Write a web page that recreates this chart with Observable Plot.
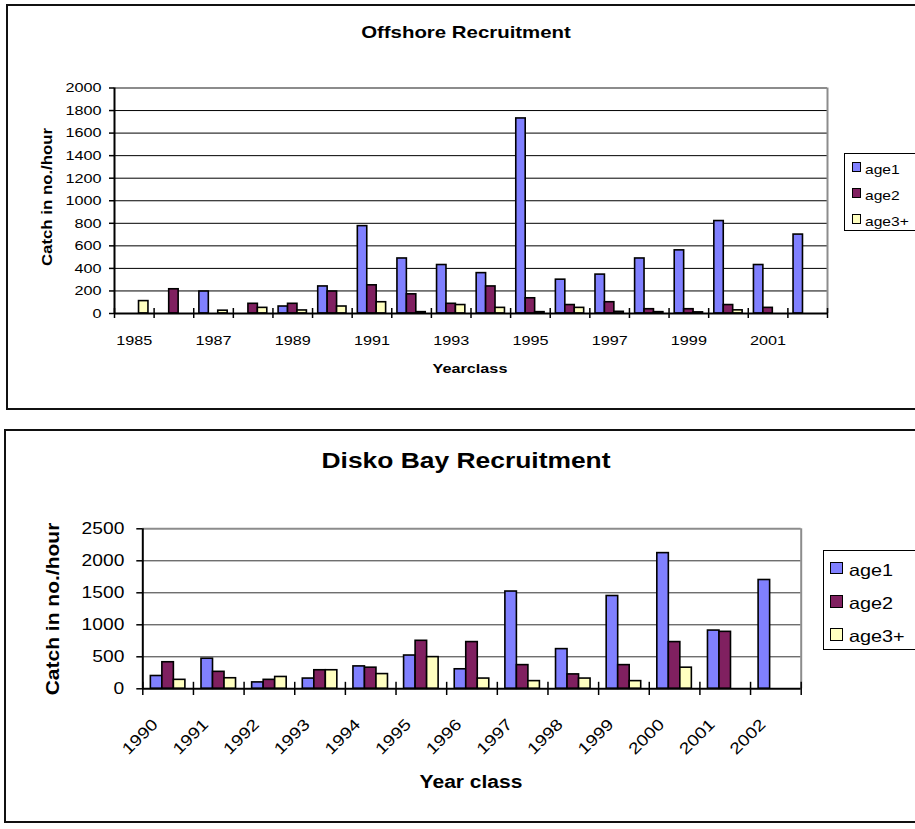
<!DOCTYPE html>
<html>
<head>
<meta charset="utf-8">
<script src="https://cdn.jsdelivr.net/npm/d3@7"></script>
<script src="https://cdn.jsdelivr.net/npm/@observablehq/plot@0.6"></script>
<style>
  body { margin: 0; background: #fff; }
  #page { position: relative; width: 915px; height: 829px; overflow: hidden; background: #fff;
          font-family: "Liberation Sans", Arial, sans-serif; color: #000; }
  .box { position: absolute; border: 2px solid #111; box-sizing: border-box; }
  .txt { position: absolute; white-space: nowrap; line-height: 1; }
  .chart { position: absolute; left: 0; }
  .legend { position: absolute; border: 1.5px solid #000; box-sizing: border-box; background: #fff; }
  .sw { position: absolute; border: 1.5px solid #000; box-sizing: border-box; }
</style>
</head>
<body>
<div id="page"></div>
<script>
// ---- Offshore survey: catch per hour by year class ----
const offshoreYears = [1985, 1986, 1987, 1988, 1989, 1990, 1991, 1992, 1993, 1994, 1995, 1996, 1997, 1998, 1999, 2000, 2001, 2002];
const offshoreAge1  = [null, null, 195, null, 62, 240, 775, 488, 430, 358, 1730, 300, 345, 488, 560, 820, 430, 700];
const offshoreAge2  = [null, 215, null, 86, 86, 195, 250, 170, 86, 240, 135, 75, 100, 38, 38, 75, 50, null];
const offshoreAge3  = [110, null, 25, 50, 27, 62, 100, 12, 75, 50, 12, 50, 15, 12, 10, 28, null, null];
const offshoreYTicks = [0, 200, 400, 600, 800, 1000, 1200, 1400, 1600, 1800, 2000];
const offshoreLabelYears = [1985, 1987, 1989, 1991, 1993, 1995, 1997, 1999, 2001];

// ---- Disko Bay survey ----
const diskoYears = [1990, 1991, 1992, 1993, 1994, 1995, 1996, 1997, 1998, 1999, 2000, 2001, 2002];
const diskoAge1  = [200, 470, 100, 160, 350, 520, 305, 1520, 620, 1450, 2120, 910, 1700];
const diskoAge2  = [415, 265, 140, 290, 330, 750, 730, 370, 225, 370, 730, 890, null];
const diskoAge3  = [140, 165, 185, 290, 230, 495, 160, 120, 160, 120, 330, null, null];
const diskoYTicks = [0, 500, 1000, 1500, 2000, 2500];

const seriesNames  = ["age1", "age2", "age3+"];
const seriesColors = ["#8080ff", "#802060", "#ffffc0"];

const WIDEN = 1.2;   // the lettering is drawn a little wider than plain Arial
const page = document.getElementById("page");

function rows(years, cols) {
  return years.flatMap((year, i) =>
    cols.map((col, j) => ({year, series: seriesNames[j], j, value: col[i]})))
    .filter(d => d.value != null);
}

function addText(str, o) {
  const el = document.createElement("div");
  el.className = "txt";
  el.textContent = str;
  el.style.fontSize = o.size + "px";
  if (o.bold) el.style.fontWeight = "bold";
  if (o.rotate) {
    el.style.left = o.x + "px";
    el.style.top = o.y + "px";
    el.style.transform = `translate(-50%,-50%) rotate(-90deg) scaleX(${WIDEN})`;
  } else if (o.anchor === "start") {
    el.style.left = o.x + "px";
    el.style.top = (o.baseline - 0.847 * o.size) + "px";
    el.style.transformOrigin = "0 50%";
    el.style.transform = `scaleX(${WIDEN})`;
  } else {
    el.style.left = o.x + "px";
    el.style.top = (o.baseline - 0.847 * o.size) + "px";
    el.style.transform = `translateX(-50%) scaleX(${WIDEN})`;
  }
  page.appendChild(el);
}

function addBox(left, top, width, height, cls = "box") {
  const el = document.createElement("div");
  el.className = cls;
  Object.assign(el.style, {left: left + "px", top: top + "px", width: width + "px", height: height + "px"});
  page.appendChild(el);
  return el;
}

function addLegend(o) {
  const box = addBox(o.left, o.top, 120, o.height, "legend");
  seriesNames.forEach((name, i) => {
    const sw = document.createElement("div");
    sw.className = "sw";
    Object.assign(sw.style, {
      left: (o.swLeft - o.left) + "px", top: (o.swTop + i * o.step - o.top) + "px",
      width: o.swW + "px", height: o.swH + "px", background: seriesColors[i]
    });
    box.appendChild(sw);
    addText(name, {x: o.textLeft, baseline: o.baseline + i * o.step, size: o.size, anchor: "start"});
  });
}

function widenText(svg) {
  svg.querySelectorAll("text").forEach(t => {
    const n = t.getComputedTextLength();
    if (n > 0) {
      t.setAttribute("textLength", n * WIDEN);
      t.setAttribute("lengthAdjust", "spacingAndGlyphs");
    }
  });
}

function groupedBarChart(o) {
  const data = rows(o.years, o.cols);
  const x0 = o.years[0] - 0.5, x1 = o.years[o.years.length - 1] + 0.5;
  const ymax = o.yTicks[o.yTicks.length - 1];
  const bw = 1 / (seriesNames.length + 2 * o.outer);           // bar width in year units
  const left = d => d.year - 0.5 + (o.outer + d.j) * bw;
  const bounds = [...o.years.map(y => y - 0.5), x1];
  const plotH = o.height - o.marginTop - o.marginBottom;

  const svg = Plot.plot({
    width: 915,
    height: o.height,
    marginLeft: o.marginLeft, marginRight: o.marginRight,
    marginTop: o.marginTop, marginBottom: o.marginBottom,
    style: {fontFamily: "'Liberation Sans', Arial, sans-serif", color: "#000", background: "transparent", overflow: "visible"},
    x: {domain: [x0, x1]},
    y: {domain: [0, ymax]},
    color: {domain: seriesNames, range: seriesColors},
    marks: [
      Plot.ruleY(o.yTicks.filter(v => v > 0 && v < ymax), {stroke: o.gridColor, strokeWidth: 1}),
      Plot.ruleY([ymax], {stroke: "#8c8c8c", strokeWidth: 2}),
      Plot.ruleX([x1], {stroke: "#8c8c8c", strokeWidth: 2}),
      Plot.rectY(data, {x1: left, x2: d => left(d) + bw, y: "value", fill: "series", stroke: "#000", strokeWidth: 1.6}),
      Plot.ruleY([0], {stroke: "#000", strokeWidth: 2}),
      Plot.ruleX([x0], {stroke: "#000", strokeWidth: 2}),
      Plot.ruleX(bounds, {stroke: "#000", strokeWidth: 1.5, insetTop: plotH - o.tickUp, insetBottom: -o.tickDown}),
      Plot.axisY({ticks: o.yTicks, tickFormat: d => String(d), tickSize: o.yTickSize, tickPadding: o.yTickPadding,
                  fontSize: o.fontSize, strokeWidth: 1.5, label: null}),
      Plot.axisX({ticks: o.labelYears, tickFormat: d => String(d), tickSize: 0, fontSize: o.fontSize, label: null,
                  ...o.xLabel})
    ]
  });
  svg.classList.add("chart");
  svg.style.top = o.top + "px";
  page.appendChild(svg);
  widenText(svg);
}

// ---------- Offshore Recruitment ----------
addBox(6, 4, 930, 405.5);
groupedBarChart({
  years: offshoreYears, cols: [offshoreAge1, offshoreAge2, offshoreAge3],
  yTicks: offshoreYTicks, labelYears: offshoreLabelYears,
  top: 0, height: 400, marginTop: 87.5, marginBottom: 87, marginLeft: 114, marginRight: 88,
  outer: 0.6, fontSize: 13.5, gridColor: "#000",
  tickUp: 5, tickDown: 5, yTickSize: 5, yTickPadding: 8,
  xLabel: {tickPadding: 22}
});
addText("Offshore Recruitment", {x: 466, baseline: 38, size: 17, bold: true});
addText("Catch in no./hour", {x: 47, y: 197, size: 14, bold: true, rotate: true});
addText("Yearclass", {x: 470, baseline: 373, size: 13.5, bold: true});
addLegend({left: 844, top: 153, height: 77.5, swLeft: 850.7, swTop: 161, swW: 9, swH: 9.5, step: 26,
           textLeft: 865, baseline: 174, size: 13});

// ---------- Disko Bay Recruitment ----------
addBox(4, 428.5, 930, 394);
groupedBarChart({
  years: diskoYears, cols: [diskoAge1, diskoAge2, diskoAge3],
  yTicks: diskoYTicks, labelYears: diskoYears,
  top: 430, height: 380, marginTop: 98.3, marginBottom: 121.7, marginLeft: 142.3, marginRight: 114.3,
  outer: 0.7, fontSize: 16, gridColor: "#333",
  tickUp: 6.5, tickDown: 6.7, yTickSize: 6, yTickPadding: 12.5,
  xLabel: {tickRotate: -45, tickPadding: 33, dx: -13}
});
addText("Disko Bay Recruitment", {x: 466, baseline: 469, size: 22, bold: true});
addText("Catch in no./hour", {x: 54, y: 609, size: 17.5, bold: true, rotate: true});
addText("Year class", {x: 471, baseline: 789, size: 17.5, bold: true});
addLegend({left: 823.3, top: 550, height: 100, swLeft: 829.3, swTop: 560.7, swW: 13, swH: 12.7, step: 33.3,
           textLeft: 849.3, baseline: 575.7, size: 16.5});
</script>
</body>
</html>
